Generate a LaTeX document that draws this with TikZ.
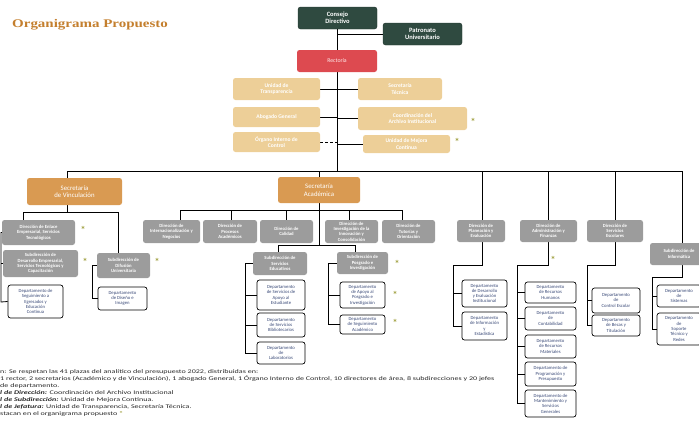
\documentclass[tikz,border=0pt]{standalone}
\usepackage{fontspec}
\setmainfont{Carlito}
\newfontfamily\titlefont{Liberation Serif}
\usetikzlibrary{backgrounds}
\definecolor{dgreen}{HTML}{2F4A40}
\definecolor{rred}{HTML}{DD4A50}
\definecolor{beige}{HTML}{EDCF98}
\definecolor{orng}{HTML}{D99A52}
\definecolor{greyb}{HTML}{9C9C9C}
\definecolor{navy}{HTML}{3A4A78}
\definecolor{starc}{HTML}{A0A040}
\definecolor{titlec}{HTML}{C47F2E}
\newcommand\nd[7]{\node[#2, minimum width={#5-#3}, minimum height={#6-#4}] (#1) at ({(#3+#5)/2},{(#4+#6)/2}) {#7};}
\begin{document}
\begin{tikzpicture}[x=1pt,y=-1pt,
  box/.style={rounded corners=2.5pt, align=center, inner sep=0.5pt},
  dg/.style={box, fill=dgreen, draw=dgreen!70!black, text=white, font=\fontsize{6.5}{7.2}\selectfont\bfseries},
  rd/.style={box, fill=rred, text=white!92!red, font=\fontsize{5.8}{6.4}\selectfont},
  bg/.style={box, fill=beige, text=white, font=\fontsize{5.6}{6.4}\selectfont\bfseries},
  orb/.style={box, fill=orng, text=white, font=\fontsize{6.8}{7.6}\selectfont},
  gr/.style={box, fill=greyb, text=white, font=\fontsize{4.7}{5.3}\selectfont\bfseries},
  wb/.style={box, fill=white, draw=black, line width=0.7pt, text=navy, font=\fontsize{4.7}{5.3}\selectfont},
  ln/.style={line width=0.8pt, black},
  stx/.style={text=starc, font=\fontsize{10}{10}\selectfont\bfseries, inner sep=0pt},
  note/.style={anchor=base west, inner sep=0pt, font=\fontsize{5.6}{5.6}\selectfont, text=black!85}]
\useasboundingbox (0,0) rectangle (699,426);

\node[anchor=west, text=titlec, inner sep=0pt] (title) at (12,25) {\scalebox{1.28}[1]{\titlefont\fontsize{11.7}{12}\selectfont\bfseries Organigrama Propuesto}};

% top
\nd{consejo}{dg}{298}{7}{377}{29}{Consejo\\Directivo}
\nd{patronato}{dg}{383}{23}{462}{45}{Patronato\\Universitario}
\nd{rectoria}{rd}{297}{50}{377}{72}{Rectoría}
\nd{transp}{bg}{233}{78}{320}{100}{Unidad de\\Transparencia}
\nd{abogado}{bg}{233}{107}{320}{127}{Abogado General}
\nd{oic}{bg}{233}{132}{320}{152}{Órgano Interno de\\Control}
\nd{sectec}{bg}{358}{78}{442}{100}{Secretaría\\Técnica}
\nd{archivo}{bg}{358}{107}{467}{130}{Coordinación del\\Archivo Institucional}
\nd{mejora}{bg}{363}{135}{450}{153}{Unidad de Mejora\\Continua}
\node[stx] (s1) at (473,122) {*};
\node[stx] (s2) at (457,142) {*};

% secretarias
\nd{vinc}{orb}{27}{178}{122}{205}{Secretaría\\de Vinculación}
\nd{acad}{orb}{278}{177}{360}{203}{Secretaría\\Académica}

% vinculacion branch
\nd{enlace}{gr}{2}{220}{75}{245}{Dirección de Enlace\\Empresarial, Servicios\\Tecnológicos}
\nd{desarrollo}{gr}{3}{250}{78}{277}{Subdirección de\\Desarrollo Empresarial,\\Servicios Tecnológicos y\\Capacitación}
\nd{difusion}{gr}{97}{253}{150}{278}{Subdirección de\\Difusión\\Universitaria}
\nd{seguim}{wb}{8}{285}{63}{318}{Departamento de\\Seguimiento a\\Egresados y\\Educación\\Continua}
\nd{diseno}{wb}{98}{287}{147}{310}{Departamento\\de Diseño e\\Imagen}
\node[stx] (s3) at (83,230) {*};
\node[stx] (s4) at (85,262) {*};
\node[stx] (s5) at (157,262) {*};

% academica branch
\nd{dir1}{gr}{143}{220}{200}{243}{Dirección de\\Internacionalización y\\Negocios}
\nd{dir2}{gr}{203}{220}{257}{243}{Dirección de\\Procesos\\Académicos}
\nd{dir3}{gr}{260}{220}{313}{243}{Dirección de\\Calidad}
\nd{dir4}{gr}{325}{220}{378}{243}{Dirección de\\Investigación de la\\Innovación y\\Consolidación}
\nd{dir5}{gr}{382}{220}{435}{243}{Dirección de\\Tutorías y\\Orientación}
\nd{servedu}{gr}{253}{252}{307}{275}{Subdirección de\\Servicios\\Educativos}
\nd{posgrado}{gr}{337}{252}{388}{274}{Subdirección de\\Posgrado e\\Investigación}
\nd{apoyoest}{wb}{257}{280}{305}{310}{Departamento\\de Servicios de\\Apoyo al\\Estudiante}
\nd{biblio}{wb}{257}{313}{305}{337}{Departamento\\de Servicios\\Bibliotecarios}
\nd{labs}{wb}{257}{342}{305}{364}{Departamento\\de\\Laboratorios}
\nd{apoyopos}{wb}{340}{282}{385}{308}{Departamento\\de Apoyo al\\Posgrado e\\Investigación}
\nd{segacad}{wb}{340}{315}{385}{334}{Departamento\\de Seguimiento\\Académico}
\node[stx] (s6) at (397,264) {*};
\node[stx] (s7) at (395,295) {*};
\node[stx] (s8) at (395,323) {*};

% right branches
\nd{planea}{gr}{457}{220}{505}{242}{Dirección de\\Planeación y\\Evaluación}
\nd{admin}{gr}{520}{220}{577}{242}{Dirección de\\Administración y\\Finanzas}
\nd{escolar}{gr}{587}{220}{643}{242}{Dirección de\\Servicios\\Escolares}
\nd{informa}{gr}{650}{243}{708}{265}{Subdirección de\\Informática}
\nd{desev}{wb}{462}{280}{507}{307}{Departamento\\de Desarrollo\\y Evaluación\\Institucional}
\nd{infoest}{wb}{462}{312}{507}{340}{Departamento\\de Información\\y\\Estadística}
\nd{rh}{wb}{525}{282}{576}{303}{Departamento\\de Recursos\\Humanos}
\nd{conta}{wb}{525}{307}{576}{330}{Departamento\\de\\Contabilidad}
\nd{rmat}{wb}{525}{335}{576}{358}{Departamento\\de Recursos\\Materiales}
\nd{prog}{wb}{525}{362}{576}{386}{Departamento de\\Programación y\\Presupuesto}
\nd{mant}{wb}{525}{390}{576}{417}{Departamento de\\Mantenimiento y\\Servicios\\Generales}
\nd{control}{wb}{592}{288}{640}{313}{Departamento\\de\\Control Escolar}
\nd{becas}{wb}{592}{315}{640}{336}{Departamento\\de Becas y\\Titulación}
\nd{sist}{wb}{657}{285}{701}{307}{Departamento\\de\\Sistemas}
\nd{soporte}{wb}{657}{313}{701}{345}{Departamento\\de\\Soporte\\Técnico y\\Redes}
\node[stx] (s9) at (553,260) {*};

% notes
\node[note] (n1) at (0,373) {\scalebox{1.44}[1]{n: Se respetan las 41 plazas del analítico del presupuesto 2022, distribuidas en:}};
\node[note] (n2) at (0,380) {\scalebox{1.44}[1]{1 rector, 2 secretarios (Académico y de Vinculación), 1 abogado General, 1 Órgano Interno de Control, 10 directores de área, 8 subdirecciones y 20 jefes}};
\node[note] (n3) at (0,387) {\scalebox{1.44}[1]{de departamento.}};
\node[note] (n4) at (0,394) {\scalebox{1.44}[1]{\textbf{\textit{l de Dirección:}} Coordinación del Archivo Institucional}};
\node[note] (n5) at (0,401) {\scalebox{1.44}[1]{\textbf{\textit{l de Subdirección:}} Unidad de Mejora Continua.}};
\node[note] (n6) at (0,408) {\scalebox{1.44}[1]{\textbf{\textit{l de Jefatura:}} Unidad de Transparencia, Secretaría Técnica.}};
\node[note] (n7) at (0,415) {\scalebox{1.44}[1]{stacan en el organigrama propuesto \textcolor{starc}{\textbf{*}}}};

% connectors
\begin{scope}[on background layer]
\coordinate (busL) at (67,171);
\coordinate (busR) at (682,171);
\draw[ln] (busL) -- (busR);
\draw[ln] (consejo.south) -- (consejo.south |- busL);
\draw[ln] (consejo.south |- patronato.west) -- (patronato.west);
\draw[ln] (transp.east) -- (consejo.south |- transp.east);
\draw[ln] (abogado.east) -- (consejo.south |- abogado.east);
\draw[ln, densely dashed] (oic.east) -- (consejo.south |- oic.east);
\draw[ln] (consejo.south |- sectec.west) -- (sectec.west);
\draw[ln] (consejo.south |- archivo.west) -- (archivo.west);
\draw[ln] (consejo.south |- mejora.west) -- (mejora.west);
% vinculacion
\coordinate (vbl) at (23,212);
\coordinate (vbr) at (118,212);
\draw[ln] (busL) -- (busL |- vbl);
\draw[ln] (vbl) -- (vbr);
\draw[ln] (vbl) -- (vbl |- enlace.north);
\draw[ln] (vbr) -- (vbr |- difusion.north);
\coordinate (lv) at (1,302);
\draw[ln] (enlace.west) -| (lv) -- (seguim.west);
\draw[ln] (lv |- desarrollo.west) -- (desarrollo.west);
\coordinate (dv) at (92,298.5);
\draw[ln] (difusion.west) -| (dv) -- (diseno.west);
% academica
\draw[ln] (acad.north |- busL) -- (acad.north);
\coordinate (ab1) at (180,210);
\coordinate (ab2) at (231,210);
\coordinate (ab3) at (286,210);
\coordinate (ab4) at (349,210);
\coordinate (ab5) at (402,210);
\draw[ln] (ab1) -- (ab5);
\draw[ln] (ab1) -- (ab1 |- dir1.north);
\draw[ln] (ab2) -- (ab2 |- dir2.north);
\draw[ln] (ab3) -- (ab3 |- dir3.north);
\draw[ln] (ab4) -- (ab4 |- dir4.north);
\draw[ln] (ab5) -- (ab5 |- dir5.north);
\coordinate (sbl) at (278,245);
\coordinate (sbr) at (355,245);
\draw[ln] (acad.south) -- (acad.south |- sbl);
\draw[ln] (sbl) -- (sbr);
\draw[ln] (sbl) -- (sbl |- servedu.north);
\draw[ln] (sbr) -- (sbr |- posgrado.north);
\coordinate (sv) at (245,0);
\draw[ln] (servedu.west) -| (sv |- labs.west) -- (labs.west);
\draw[ln] (sv |- apoyoest.west) -- (apoyoest.west);
\draw[ln] (sv |- biblio.west) -- (biblio.west);
\coordinate (pv) at (328,0);
\draw[ln] (posgrado.west) -| (pv |- segacad.west) -- (segacad.west);
\draw[ln] (pv |- apoyopos.west) -- (apoyopos.west);
% right
\coordinate (r1) at (482,171);
\coordinate (r2) at (548,171);
\coordinate (r3) at (615,171);
\draw[ln] (r1) -- (r1 |- planea.north);
\draw[ln] (r2) -- (r2 |- admin.north);
\draw[ln] (r3) -- (r3 |- escolar.north);
\draw[ln] (busR) -- (busR |- informa.north);
\coordinate (pl) at (453,265);
\draw[ln] (r1 |- planea.south) -- (r1 |- pl) -- (pl) -- (pl |- infoest.west) -- (infoest.west);
\draw[ln] (pl |- desev.west) -- (desev.west);
\coordinate (adl) at (517,265);
\draw[ln] (r2 |- admin.south) -- (r2 |- adl) -- (adl) -- (adl |- mant.west) -- (mant.west);
\draw[ln] (adl |- rh.west) -- (rh.west);
\draw[ln] (adl |- conta.west) -- (conta.west);
\draw[ln] (adl |- rmat.west) -- (rmat.west);
\draw[ln] (adl |- prog.west) -- (prog.west);
\coordinate (esl) at (587,265);
\draw[ln] (r3 |- escolar.south) -- (r3 |- esl) -- (esl) -- (esl |- becas.west) -- (becas.west);
\draw[ln] (esl |- control.west) -- (control.west);
\coordinate (inl) at (652,277);
\draw[ln] (busR |- informa.south) -- (busR |- inl) -- (inl) -- (inl |- soporte.west) -- (soporte.west);
\draw[ln] (inl |- sist.west) -- (sist.west);
\end{scope}
\end{tikzpicture}
\end{document}
